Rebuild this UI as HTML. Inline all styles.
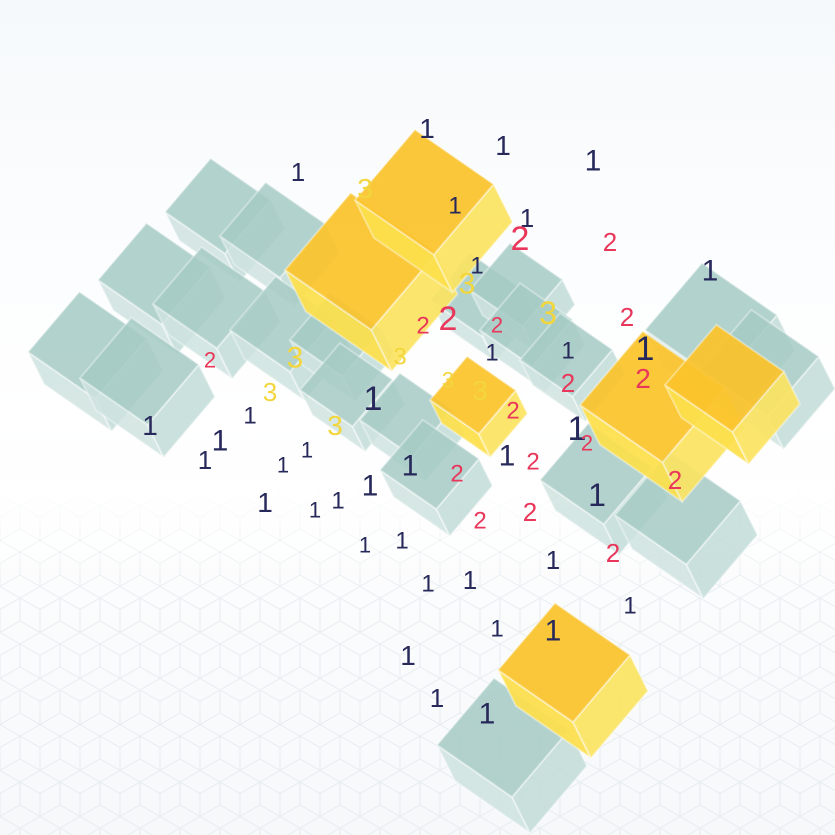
<!DOCTYPE html>
<html><head><meta charset="utf-8"><style>
html,body{margin:0;padding:0;width:835px;height:835px;overflow:hidden;background:#fff}
svg{display:block}
text{font-family:"Liberation Sans","DejaVu Sans",sans-serif;}
</style></head><body>
<svg id="chart" width="835" height="835" viewBox="0 0 835 835" xmlns="http://www.w3.org/2000/svg">
<defs>
<linearGradient id="bg" x1="0" y1="0" x2="0" y2="1">
<stop offset="0" stop-color="#f6f9fb"/><stop offset="0.5" stop-color="#ffffff"/><stop offset="1" stop-color="#f6f8fa"/>
</linearGradient>
<linearGradient id="fade" x1="0" y1="0" x2="0" y2="1">
<stop offset="0" stop-color="#fff" stop-opacity="1"/><stop offset="0.3" stop-color="#fff" stop-opacity="0"/>
</linearGradient>
<pattern id="hex" width="40" height="46" patternUnits="userSpaceOnUse">
<path d="M20 0 L40 11.5 L40 34.5 L20 46 L0 34.5 L0 11.5 Z M20 0 L20 23 M0 34.5 L20 23 L40 34.5" fill="none" stroke="#dfe7ea" stroke-width="1"/>
</pattern>
</defs>
<rect width="835" height="835" fill="url(#bg)"/>
<rect y="480" width="835" height="355" fill="url(#hex)" opacity="0.7"/>
<rect y="480" width="835" height="355" fill="url(#fade)"/>
<g id="cubes"></g>
<g id="nums"></g>
</svg>
<script>
// cube data: x, y (left vertex of top face), scale, kind
const cubeX = [165,220,98,153,28,80,230,290,430,470,480,520,300,360,380,645,700,540,615,437,285,355,430,580,665,498];
const cubeY = [212,236,280,304,352,378,330,340,300,290,330,360,390,420,470,330,370,480,515,745,270,200,400,405,385,670];
const cubeS = [.8,.8,.85,.85,.9,.9,.8,.7,.7,.7,.7,.7,.7,.7,.75,1.0,.9,.85,.95,1.0,1.15,1.05,.65,1.1,.9,1.0];
const cubeKind = ['t','t','t','t','t','t','t','t','t','t','t','t','t','t','t','t','t','t','t','t','y','y','y','y','y','y'];

const numX = [427,503,593,298,527,477,710,645,492,568,373,150,220,250,205,283,307,410,507,577,370,265,315,338,597,365,402,428,470,553,630,497,553,408,437,487,455,
  520,610,627,448,423,497,568,643,513,587,457,533,530,480,613,675,210,
  365,467,548,295,400,270,448,480,335];
const numY = [128,145,160,172,218,265,270,348,352,350,398,425,440,415,460,465,450,465,455,428,485,502,510,500,495,545,540,583,580,560,605,628,630,655,698,713,205,
  238,242,317,318,325,325,383,378,410,443,473,461,512,520,553,480,360,
  188,283,313,357,356,392,380,390,425];
const numLabel = ['1','1','1','1','1','1','1','1','1','1','1','1','1','1','1','1','1','1','1','1','1','1','1','1','1','1','1','1','1','1','1','1','1','1','1','1','1',
  '2','2','2','2','2','2','2','2','2','2','2','2','2','2','2','2','2',
  '3','3','3','3','3','3','3','3','3'];
const numSize = [28,28,30,26,26,24,30,34,24,24,34,28,30,24,26,22,22,30,30,34,30,28,22,24,32,22,24,24,26,26,24,24,30,28,26,30,24,
  34,26,26,34,24,22,26,28,24,22,24,24,26,24,26,26,22,
  28,30,32,30,24,26,22,28,28];

const NS='http://www.w3.org/2000/svg';
const cg=document.getElementById('cubes');
const pal={t:['#a6cbc5','#cfe3e0','#c2dcd8'],y:['#fbc42c','#fde04c','#fbe463']};
function pt(a){return a.map(p=>p[0].toFixed(1)+','+p[1].toFixed(1)).join(' ');}
for(let i=0;i<cubeX.length;i++){
  const s=cubeS[i],x=cubeX[i],y=cubeY[i];
  const u=[57*s,-67*s],v=[75*s,52*s],h=[18*s,36*s];
  const P=[x,y],A=[x+u[0],y+u[1]],B=[x+u[0]+v[0],y+u[1]+v[1]],C=[x+v[0],y+v[1]];
  const d=p=>[p[0]+h[0],p[1]+h[1]];
  const c=pal[cubeKind[i]];
  const g=document.createElementNS(NS,'g');
  
  
  g.setAttribute('opacity', cubeKind[i]==='y'?'0.93':'0.85');
  const faces=[[[P,C,d(C),d(P)],c[1]],[[C,B,d(B),d(C)],c[2]],[[P,A,B,C],c[0]]];
  faces.forEach(f=>{
    const p=document.createElementNS(NS,'polygon');
    p.setAttribute('points',pt(f[0]));
    p.setAttribute('fill',f[1]);
    p.setAttribute('stroke','#ffffff');
    p.setAttribute('stroke-opacity','0.4');
    p.setAttribute('stroke-width','2');
    g.appendChild(p);
  });
  cg.appendChild(g);
}
const ng=document.getElementById('nums');
const ncol={'1':'#27295a','2':'#e8375a','3':'#f2d63c'};
for(let i=0;i<numX.length;i++){
  const t=document.createElementNS(NS,'text');
  
  
  t.setAttribute('x',numX[i]);
  t.setAttribute('y',numY[i]+numSize[i]*0.35);
  t.setAttribute('font-size',numSize[i]);
  t.setAttribute('text-anchor','middle');
  t.setAttribute('fill',ncol[numLabel[i]]);
  t.textContent=numLabel[i];
  ng.appendChild(t);
}
</script>
</body></html>
